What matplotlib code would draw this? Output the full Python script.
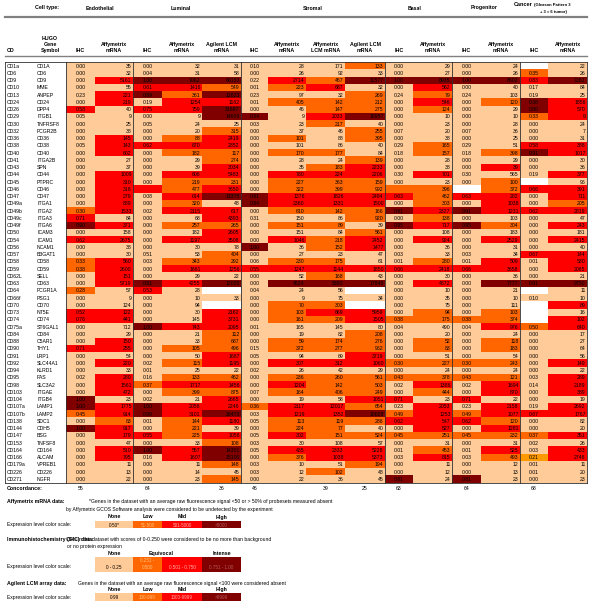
import matplotlib
matplotlib.use("Agg")
import matplotlib.pyplot as plt
import numpy as np
from matplotlib.colors import ListedColormap

plt.rcParams['font.family'] = ['Liberation Sans', 'DejaVu Sans']

# ---------------- data ----------------
cd_ids = ["CD1a", "CD6", "CD9", "CD10", "CD13", "CD24", "CD26", "CD29", "CD30", "CD32",
          "CD36", "CD38", "CD40", "CD41", "CD43", "CD44", "CD45", "CD46", "CD47", "CD49a",
          "CD49b", "CD49c", "CD49f", "CD50", "CD54", "CD56", "CD57", "CD58", "CD59", "CD62L",
          "CD63", "CD64", "CD66f", "CD70", "CD73", "CD74", "CD75a", "CD84", "CD88", "CD90",
          "CD91", "CD92", "CD94", "CD95", "CD98", "CD103", "CD104", "CD107a", "CD107b", "CD138",
          "CD144", "CD147", "CD153", "CD164", "CD166", "CD179a", "CD226", "CD271"]
hugo = ["CD1A", "CD6", "CD9", "MME", "ANPEP", "CD24", "DPP4", "ITGB1", "TNFRSF8", "FCGR2B",
        "CD36", "CD38", "CD40", "ITGA2B", "SPN", "CD44", "PTPRC", "CD46", "CD47", "ITGA1",
        "ITGA2", "ITGA3", "ITGA6", "ICAM3", "ICAM1", "NCAM1", "B3GAT1", "CD58", "CD59", "SELL",
        "CD63", "FCGR1A", "PSG1", "CD70", "NT5E", "CD74", "ST6GAL1", "CD84", "C5AR1", "THY1",
        "LRP1", "SLC44A1", "KLRD1", "FAS", "SLC3A2", "ITGAE", "ITGB4", "LAMP1", "LAMP2", "SDC1",
        "CDH5", "BSG", "TNFSF8", "CD164", "ALCAM", "VPREB1", "CD226", "NGFR"]

cell_types = ["Endothelial", "Luminal", "Stromal", "Basal", "Progenitor"]
col_headers = ["IHC", "Affymetrix\nmRNA", "IHC", "Affymetrix\nmRNA", "Agilent LCM\nmRNA",
               "IHC", "Affymetrix\nmRNA", "Affymetrix\nLCM mRNA", "Agilent LCM\nmRNA",
               "IHC", "Affymetrix\nmRNA", "IHC", "Affymetrix\nmRNA", "IHC", "Affymetrix\nmRNA"]
col_kind = ["ihc", "num", "ihc", "num", "num", "ihc", "num", "num", "num",
            "ihc", "num", "ihc", "num", "ihc", "num"]

endo_ihc = ["0.00","0.00","0.00","0.00","0.23","0.00","0.58","0.05","0.00","0.00",
            "0.00","0.05","0.00","0.00","0.00","0.00","0.00","0.00","0.00","0.00",
            "0.30","0.71","0.90","0.00","0.62","0.00","0.00","0.33","0.38","0.00",
            "0.00","0.28","0.00","0.00","0.52","0.76","0.00","0.00","0.00","0.71",
            "0.00","0.00","0.00","0.02","0.00","0.00","1.00","1.00","0.45","0.00",
            "1.00","0.00","0.00","0.00","0.00","0.00","0.00","0.00"]
endo_ihc_lv = "0000002000" "0000000000" "1230200110" "0100220002" "0000003310" "30000000"

endo_affy = ["35","32","5161","55","221","219","40","9","25","38",
             "145","143","602","27","37","1009","310","318","279","889",
             "1533","84","371","158","2675","38","30","560","2600","151",
             "5719","57","9","124","122","441","712","29","150","255",
             "54","220","33","280","1561","472","23","1775","914","83",
             "917","179","47","510","795","11","13","22"]
endo_affy_lv = "0020220000" "2220022222" "2020200222" "2000220022" "0202220221" "22022000"

lum_ihc = ["0.00","0.04","1.00","0.61","0.89","0.19","0.75","0.00","0.05","0.00",
           "0.00","0.62","0.00","0.00","0.00","0.00","0.00","","0.08","0.00",
           "0.02","0.00","0.00","0.00","0.00","0.00","0.51","0.03","0.00","0.00",
           "0.81","0.53","0.00","0.00","0.00","0.00","1.00","0.00","0.00","0.00",
           "0.00","0.02","0.01","0.16","0.37","0.00","0.02","1.00","0.99","0.01",
           "0.00","0.55","0.00","1.00","0.16","0.00","0.00","0.00"]
lum_ihc_lv = "0032302000" "0200000200" "0000000000" "3200003000" "0000100330" "02030000"

lum_affy = ["32","31","7062","1416","361","1254","759","9","24","20",
            "88","670","182","29","39","606","219","477","614","320",
            "2115","68","257","182","1197","30","53","343","1661","29",
            "4255","28","10","94","30","145","743","21","33","105",
            "50","115","25","133","1717","399","21","2056","3101","144",
            "221","225","33","557","1607","11","14","23"]
lum_affy_lv = "0032122000" "1210021121" "2010200120" "2000002001" "0101210221" "11022000"

lum_agil = ["31","58","60153","549","12623","1162","31697","14926","25","315",
            "2419","2852","117","274","3034","5483","231","3650","13375","48",
            "617","4393","265","2605","3508","78","404","292","1256","22",
            "12035","","33","","2162","3731","2095","112","687","496",
            "1687","1195","22","462","1456","875","2665","2246","26473","1180",
            "39","1056","108","14301","15100","148","45","145"]
lum_agil_lv = "0031323301" "2211221230" "2212201120" "3w0w222111" "2201212232" "02133101"

str_ihc = ["0.10","0.00","0.22","0.01","0.23","0.01","0.00","0.34","0.03","0.00",
           "0.00","0.00","0.00","0.00","0.00","0.00","0.00","0.00","0.91","0.84",
           "0.00","0.31","0.00","0.00","0.00","1.00","0.00","0.06","0.55","0.00",
           "0.00","0.04","0.00","0.00","0.00","0.00","0.01","0.00","0.00","0.15",
           "0.05","0.00","0.02","0.00","0.00","0.07","0.00","0.36","0.03","0.05",
           "0.00","0.05","0.03","0.05","0.00","0.03","0.03","0.00"]
str_ihc_lv = "0000000300" "0000000033" "0000030020" "0000000000" "0000000100" "00000000"

str_affy = ["28","26","2714","223","97","405","46","9","23","37",
            "101","101","170","28","35","780","227","322","1376","2360",
            "610","150","151","151","1046","36","27","230","1247","52",
            "4524","24","9","70","103","161","165","19","59","372",
            "94","307","26","236","1204","164","19","2117","1219","113",
            "224","302","30","435","376","10","12","22"]
str_affy_lv = "0021010000" "1010021122" "1010200120" "3001110011" "0201210221" "12021000"

str_lcm = ["171","92","467","687","32","142","147","2033","217","46",
           "88","86","177","24","183","224","363","399","1826","1331",
           "142","86","89","84","218","152","23","175","1144","168",
           "5380","56","75","303","669","209","145","82","174","277",
           "69","312","42","260","142","406","58","12017","1352","119",
           "77","151","108","2333","1038","51","102","36"]
str_lcm_lv = "0012011210" "0010121122" "1010110121" "3001210011" "0201110221" "11022010"

str_agil = ["133","33","11577","32","269","212","275","16957","40","255",
            "395","40","84","139","2233","2206","159","992","2484","1500",
            "166","920","39","561","2452","1477","47","61","1850","43",
            "17846","","34","","5959","1505","80","208","276","962",
            "3719","1060","29","561","503","249","1051","654","10028","286",
            "40","524","57","5228","5373","194","48","45"]
str_agil_lv = "1030111301" "1001221122" "1101220020" "3w0w220111" "2201112131" "01022100"

bas_ihc = ["0.00","0.00","1.00","0.00","0.24","0.00","0.00","0.00","0.00","0.07",
           "0.00","0.29","0.18","0.00","0.00","0.30","0.00","","0.63","0.00",
           "0.91","0.00","0.95","0.00","0.00","0.00","0.03","0.01","0.66","0.00",
           "0.00","0.00","0.00","0.00","0.00","0.38","0.04","0.00","0.00","0.00",
           "0.00","0.30","0.00","0.43","0.02","0.00","0.71","0.23","0.49","0.62",
           "0.00","0.45","0.00","0.01","0.03","0.00","0.00","0.81"]
bas_ihc_lv = "0030000000" "0000000120" "3030000020" "0000010000" "0101002012" "01000003"

bas_affy = ["29","27","6935","562","79","546","124","10","23","20",
            "38","165","157","28","38","701","23","396","462","303",
            "2327","138","717","108","924","36","33","280","2418","30",
            "4872","10","35","75","94","175","490","20","52","83",
            "51","227","24","378","1386","444","23","2053","1253","547",
            "527","251","31","453","815","11","12","24"]
bas_affy_lv = "0032121000" "0110020111" "2120200120" "2000110011" "0101210222" "21012000"

pro_ihc = list(bas_ihc)
pro_ihc_lv = "0030000000" "0000000w20" "3030000020" "0000010000" "0101002012" "01000003"

pro_affy = ["24","26","8602","40","103","120","29","10","28","36",
            "25","51","398","29","39","565","100","372","282","1038",
            "1231","103","304","183","2529","31","34","509","3658","36",
            "7777","21","10","111","103","374","976","24","118","183",
            "54","243","24","121","1694","870","22","2158","1077","120",
            "1281","232","31","525","493","12","13","23"]
pro_affy_lv = "0030010000" "0010201122" "2010200220" "3000112011" "0101220221" "21021000"

can_ihc = ["","0.35","0.83","0.17","0.19","0.36","0.80","0.33","0.00","0.00",
           "0.00","0.58","0.91","0.00","0.00","0.19","","0.66","0.00","0.00",
           "0.62","0.00","0.00","0.00","0.00","0.00","0.67","0.01","0.00","0.00",
           "0.91","","0.10","","","","0.50","0.00","0.00","0.00",
           "0.00","0.00","0.00","0.03","0.14","0.00","0.00","0.19","0.67","0.00",
           "0.00","0.37","0.02","0.03","0.21","0.01","0.01","0.00"]
can_ihc_lv = "w120033100" "023000w200" "2000002000" "3w0www1000" "0000000020" "01004000"

can_affy = ["22","26","7261","84","25","1856","570","9","24","7",
            "31","388","1017","30","36","377","96","391","711","205",
            "2819","47","243","181","2415","40","144","530","2065","21",
            "9750","11","10","89","16","102","640","17","27","64",
            "56","149","22","289","2189","389","19","2692","1767","82",
            "20","351","26","433","2746","11","20","23"]
can_affy_lv = "0030022200" "0220020221" "2020202220" "3002022000" "0202220220" "02022000"

conc_cols = [0, 2, 4, 5, 7, 8, 9, 11, 13]
conc_vals = ["55", "64", "36", "46", "39", "25", "63", "64", "68"]

affy_legend = ["0-50*", "51-500", "501-5000", ">5000"]
ihc_legend = ["0 - 0.25", "0.251 -\n0.500", "0.501 - 0.750", "0.751 - 1.00"]
agil_legend = ["0-99", "100-999", "1000-9999", ">9999"]

# ---------------- layout ----------------
values = [endo_ihc, endo_affy, lum_ihc, lum_affy, lum_agil, str_ihc, str_affy, str_lcm,
          str_agil, bas_ihc, bas_affy, pro_ihc, pro_affy, can_ihc, can_affy]
levels = [endo_ihc_lv, endo_affy_lv, lum_ihc_lv, lum_affy_lv, lum_agil_lv, str_ihc_lv,
          str_affy_lv, str_lcm_lv, str_agil_lv, bas_ihc_lv, bas_affy_lv, pro_ihc_lv,
          pro_affy_lv, can_ihc_lv, can_affy_lv]

col_edges = np.array([66, 95, 133, 162, 202, 241, 268, 306, 345, 385, 413, 452, 481, 520, 548, 587])
sect_lines = [5, 66, 133, 241, 385, 452, 520, 587]
y0, rh = 62.1, 7.25
n = len(cd_ids)
row_edges = y0 + rh * np.arange(n + 1)
ybot = row_edges[-1]

palette = ['#FFCC99', '#FF6600', '#FF0000', '#800000', '#FF9900', '#FFFFFF']
code = {'0': 0, '1': 1, '2': 2, '3': 3, '4': 4, 'w': 5}
C = np.array([[code[c] for c in lv] for lv in levels]).T

FS = 3.7
fig = plt.figure(figsize=(6, 6.06), dpi=100)
ax = fig.add_axes([0, 0, 1, 1])
ax.set_xlim(0, 600)
ax.set_ylim(606, 0)
ax.axis('off')

ax.pcolormesh(col_edges, row_edges, C, cmap=ListedColormap(palette), vmin=-0.5, vmax=5.5)

centers = (col_edges[:-1] + col_edges[1:]) / 2
for j, col in enumerate(values):
    for i, v in enumerate(col):
        if not v:
            continue
        yc = (row_edges[i] + row_edges[i + 1]) / 2 + 0.3
        if col_kind[j] == "ihc":
            ax.text(centers[j], yc, v, ha='center', va='center', fontsize=FS)
        else:
            ax.text(col_edges[j + 1] - 1.3, yc, v, ha='right', va='center', fontsize=FS)

for i in range(n):
    yc = (row_edges[i] + row_edges[i + 1]) / 2 + 0.3
    ax.text(7, yc, cd_ids[i], ha='left', va='center', fontsize=FS)
    ax.text(37, yc, hugo[i], ha='left', va='center', fontsize=FS)

# lines
for x in sect_lines:
    ax.plot([x, x], [y0, ybot], color='#303030', lw=0.6)
ax.plot([5, 587], [y0, y0], color='#303030', lw=0.6)
ax.plot([5, 587], [ybot, ybot], color='#303030', lw=0.6)
ax.plot([5, 587], [16.5, 16.5], color='#808080', lw=1.6)
ax.plot([5, 587], [56, 56], color='#808080', lw=1.0)

# headers
HB = dict(fontsize=3.8, fontweight='bold', va='center')
ax.text(47, 8, "Cell type:", ha='center', **HB)
sect_x = [100, 181, 313, 415, 484]
for t, x in zip(cell_types, sect_x):
    ax.text(x, 8, t, ha='center', **HB)
ax.text(532, 5, "Cancer", ha='right', fontsize=4.0, fontweight='bold', va='center')
ax.text(533.5, 5.2, "(Gleason Pattern 3", ha='left', fontsize=3.0, fontweight='bold', va='center')
ax.text(553, 11.5, "+ 3 = 6 tumor)", ha='center', fontsize=3.0, fontweight='bold', va='center')

ax.text(7, 50.5, "CD", ha='left', **HB)
ax.text(50, 38.5, "HUGO", ha='center', **HB)
ax.text(50, 44.5, "Gene", ha='center', **HB)
ax.text(50, 50.5, "Symbol", ha='center', **HB)
for j, h in enumerate(col_headers):
    lines = h.split("\n")
    for k, ln in enumerate(reversed(lines)):
        ax.text(centers[j], 50.5 - 6 * k, ln, ha='center', **HB)

# concordance
yc_conc = ybot + 5.5
ax.text(7, yc_conc, "Concordance:", ha='left', **HB)
for cidx, v in zip(conc_cols, conc_vals):
    ax.text(centers[cidx], yc_conc, v, ha='center', va='center', fontsize=FS)

# legends
box_edges = [95, 133, 162, 202, 241]
box_txt_col = ['#000000', '#FFC080', '#FFB0B0', '#B06060']

def legend_boxes(ytop, hgt, labels, two_line=False):
    for k in range(4):
        ax.add_patch(plt.Rectangle((box_edges[k], ytop), box_edges[k + 1] - box_edges[k], hgt,
                                   facecolor=palette[k], edgecolor='none'))
        lab = labels[k]
        xc = (box_edges[k] + box_edges[k + 1]) / 2
        if "\n" in lab:
            a, b = lab.split("\n")
            ax.text(xc, ytop + hgt * 0.27, a, ha='center', va='center', fontsize=3.3, color=box_txt_col[k])
            ax.text(xc, ytop + hgt * 0.73, b, ha='center', va='center', fontsize=3.3, color=box_txt_col[k])
        else:
            yy = ytop + (hgt * 0.73 if two_line else hgt / 2 + 0.3)
            ax.text(xc, yy, lab, ha='center', va='center', fontsize=3.3, color=box_txt_col[k])

LB = dict(fontsize=3.8, fontweight='bold', va='center')
LT = dict(fontsize=3.6, va='center')
# Affymetrix
ax.text(7, 502, "Affymetrix mRNA data:", ha='left', **LB)
ax.text(89, 502, "*Genes in the dataset with an average raw fluorescence signal <50 or > 50% of probesets measured absent", ha='left', **LT)
ax.text(66, 509.5, "by Affymetrix GCOS Software analysis were considered to be undetected by the experiment", ha='left', **LT)
for t, x in zip(["None", "Low", "Mid", "High"], [114, 147.5, 182, 221.5]):
    ax.text(x, 517, t, ha='center', **LB)
ax.text(7, 524.8, "Expression level color scale:", ha='left', **LT)
legend_boxes(521.1, 7.25, affy_legend)

# IHC
ax.text(7, 539, "Immunohistochemistry (IHC) data:", ha='left', **LB)
ax.text(65.5, 539, "CD's in the dataset with scores of 0-0.250 were considered to be no more than background", ha='left', **LT)
ax.text(67, 546.4, "or no protein expression", ha='left', **LT)
for t, x in zip(["None", "Equivocal", "Intense"], [114, 161, 222]):
    ax.text(x, 553.7, t, ha='center', **LB)
ax.text(7, 566.5, "Expression level color scale:", ha='left', **LT)
legend_boxes(557, 14.5, ihc_legend, two_line=True)

# Agilent
ax.text(7, 583, "Agilent LCM array data:", ha='left', **LB)
ax.text(78, 583, "Genes in the dataset with an average raw fluorescence signal <100 were considered absent", ha='left', **LT)
for t, x in zip(["None", "Low", "Mid", "High"], [114, 147.5, 182, 221.5]):
    ax.text(x, 589.6, t, ha='center', **LB)
ax.text(7, 597, "Expression level color scale:", ha='left', **LT)
legend_boxes(593.4, 7.25, agil_legend)

fig.savefig("out.png", dpi=100)
